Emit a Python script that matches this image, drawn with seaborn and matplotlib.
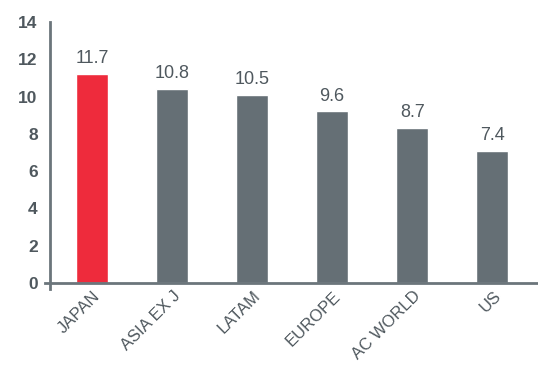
import matplotlib
matplotlib.use("Agg")
import matplotlib.pyplot as plt
import matplotlib.transforms as mtransforms
import seaborn as sns
import pandas as pd

categories = ["JAPAN", "ASIA EX J", "LATAM", "EUROPE", "AC WORLD", "US"]
bar_values = [11.2, 10.4, 10.1, 9.2, 8.3, 7.1]
value_labels = ["11.7", "10.8", "10.5", "9.6", "8.7", "7.4"]
y_ticks = [0, 2, 4, 6, 8, 10, 12, 14]

RED = "#ee2b3c"
GREY = "#656f75"
AXIS = "#6b757b"
TEXT = "#4f585e"

sns.set_theme(style="white")
plt.rcParams["font.family"] = ["Liberation Sans", "DejaVu Sans"]

df = pd.DataFrame({"cat": categories, "val": bar_values})
colors = [RED] + [GREY] * (len(categories) - 1)

fig = plt.figure(figsize=(5.38, 3.67), dpi=100)
ax = fig.add_axes([45 / 538, (367 - 288.6) / 367, 1 - 45 / 538, (288.6 - 22) / 367])

sns.barplot(data=df, x="cat", y="val", hue="cat", palette=colors, width=0.4,
            legend=False, ax=ax, saturation=1)

ax.set_xlim(-0.585, 5.57)
ax.set_ylim(-0.3, 14)
ax.set_xlabel("")
ax.set_ylabel("")

for s in ["top", "right"]:
    ax.spines[s].set_visible(False)
ax.spines["left"].set_position(("data", -0.52))
ax.spines["bottom"].set_position(("data", 0))
for s in ["left", "bottom"]:
    ax.spines[s].set_color(AXIS)
    ax.spines[s].set_linewidth(2)

ax.set_yticks(y_ticks)
ax.set_yticklabels([str(t) for t in y_ticks])
ax.tick_params(axis="y", length=0, pad=9, labelsize=12.5, labelcolor=TEXT)
ax.tick_params(axis="x", length=0, pad=2, labelsize=12, labelcolor=TEXT)
for lbl in ax.get_yticklabels():
    lbl.set_fontweight("bold")

offset = mtransforms.ScaledTranslation(6 / 100, -8 / 100, fig.dpi_scale_trans)
ax.set_xticks(range(len(categories)))
ax.set_xticklabels(categories, rotation=45, ha="right", va="center",
                   rotation_mode="anchor")
for lbl in ax.get_xticklabels():
    lbl.set_transform(lbl.get_transform() + offset)

for i, (v, t) in enumerate(zip(bar_values, value_labels)):
    ax.annotate(t, (i, v), xytext=(0, 5), textcoords="offset points",
                ha="center", va="bottom", fontsize=13, color=TEXT)

fig.savefig("out.png", dpi=100)
